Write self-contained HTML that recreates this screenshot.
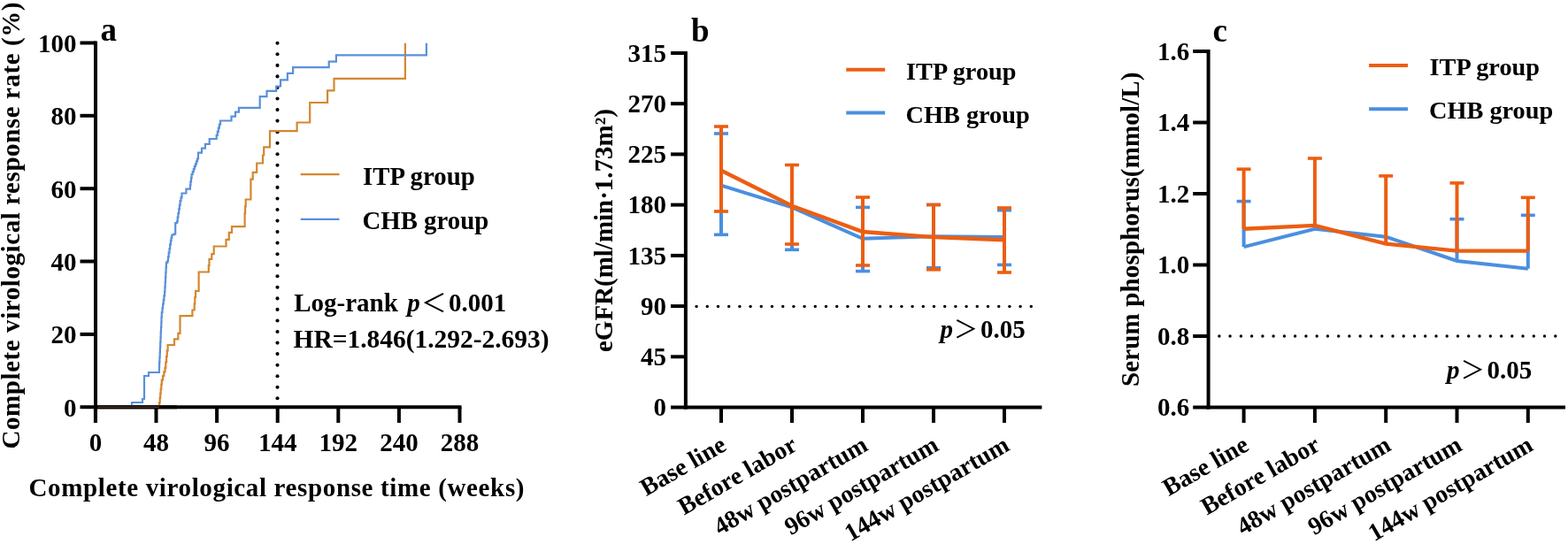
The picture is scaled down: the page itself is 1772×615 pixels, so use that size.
<!DOCTYPE html>
<html><head><meta charset="utf-8"><title>Figure</title>
<style>
html,body{margin:0;padding:0;background:#fff;}
svg{display:block;filter:blur(0.45px);}
text{font-family:'Liberation Serif', 'Times New Roman', serif;font-weight:bold;fill:#000;}
.cjk{font-family:'Noto Sans CJK SC','Liberation Serif',sans-serif;font-weight:normal;}
</style></head>
<body>
<svg width="1772" height="615" viewBox="0 0 1772 615">
<rect width="1772" height="615" fill="#fff"/>
<line x1="90.5" y1="460.2" x2="108.0" y2="460.2" stroke="#000" stroke-width="4" stroke-linecap="butt"/>
<text x="86.5" y="470.5" font-size="29" text-anchor="end" >0</text>
<line x1="90.5" y1="377.9" x2="108.0" y2="377.9" stroke="#000" stroke-width="4" stroke-linecap="butt"/>
<text x="86.5" y="388.2" font-size="29" text-anchor="end" >20</text>
<line x1="90.5" y1="295.5" x2="108.0" y2="295.5" stroke="#000" stroke-width="4" stroke-linecap="butt"/>
<text x="86.5" y="305.8" font-size="29" text-anchor="end" >40</text>
<line x1="90.5" y1="213.2" x2="108.0" y2="213.2" stroke="#000" stroke-width="4" stroke-linecap="butt"/>
<text x="86.5" y="223.5" font-size="29" text-anchor="end" >60</text>
<line x1="90.5" y1="130.8" x2="108.0" y2="130.8" stroke="#000" stroke-width="4" stroke-linecap="butt"/>
<text x="86.5" y="141.1" font-size="29" text-anchor="end" >80</text>
<line x1="90.5" y1="48.5" x2="108.0" y2="48.5" stroke="#000" stroke-width="4" stroke-linecap="butt"/>
<text x="86.5" y="58.8" font-size="29" text-anchor="end" >100</text>
<line x1="107.9" y1="460.2" x2="107.9" y2="478.0" stroke="#000" stroke-width="4" stroke-linecap="butt"/>
<text x="107.9" y="510.0" font-size="29" text-anchor="middle" >0</text>
<line x1="176.5" y1="460.2" x2="176.5" y2="478.0" stroke="#000" stroke-width="4" stroke-linecap="butt"/>
<text x="176.5" y="510.0" font-size="29" text-anchor="middle" >48</text>
<line x1="245.1" y1="460.2" x2="245.1" y2="478.0" stroke="#000" stroke-width="4" stroke-linecap="butt"/>
<text x="245.1" y="510.0" font-size="29" text-anchor="middle" >96</text>
<line x1="313.7" y1="460.2" x2="313.7" y2="478.0" stroke="#000" stroke-width="4" stroke-linecap="butt"/>
<text x="313.7" y="510.0" font-size="29" text-anchor="middle" >144</text>
<line x1="382.3" y1="460.2" x2="382.3" y2="478.0" stroke="#000" stroke-width="4" stroke-linecap="butt"/>
<text x="382.3" y="510.0" font-size="29" text-anchor="middle" >192</text>
<line x1="450.9" y1="460.2" x2="450.9" y2="478.0" stroke="#000" stroke-width="4" stroke-linecap="butt"/>
<text x="450.9" y="510.0" font-size="29" text-anchor="middle" >240</text>
<line x1="519.5" y1="460.2" x2="519.5" y2="478.0" stroke="#000" stroke-width="4" stroke-linecap="butt"/>
<text x="519.5" y="510.0" font-size="29" text-anchor="middle" >288</text>
<line x1="108.0" y1="46.5" x2="108.0" y2="462.2" stroke="#000" stroke-width="4" stroke-linecap="butt"/>
<line x1="106.0" y1="460.2" x2="521.5" y2="460.2" stroke="#000" stroke-width="4" stroke-linecap="butt"/>
<circle cx="313.5" cy="48.8" r="2.05"/>
<circle cx="313.5" cy="61.3" r="2.05"/>
<circle cx="313.5" cy="73.9" r="2.05"/>
<circle cx="313.5" cy="86.4" r="2.05"/>
<circle cx="313.5" cy="99.0" r="2.05"/>
<circle cx="313.5" cy="111.5" r="2.05"/>
<circle cx="313.5" cy="124.1" r="2.05"/>
<circle cx="313.5" cy="136.6" r="2.05"/>
<circle cx="313.5" cy="149.2" r="2.05"/>
<circle cx="313.5" cy="161.7" r="2.05"/>
<circle cx="313.5" cy="174.3" r="2.05"/>
<circle cx="313.5" cy="186.8" r="2.05"/>
<circle cx="313.5" cy="199.4" r="2.05"/>
<circle cx="313.5" cy="211.9" r="2.05"/>
<circle cx="313.5" cy="224.5" r="2.05"/>
<circle cx="313.5" cy="237.0" r="2.05"/>
<circle cx="313.5" cy="249.6" r="2.05"/>
<circle cx="313.5" cy="262.1" r="2.05"/>
<circle cx="313.5" cy="274.6" r="2.05"/>
<circle cx="313.5" cy="287.2" r="2.05"/>
<circle cx="313.5" cy="299.7" r="2.05"/>
<circle cx="313.5" cy="312.3" r="2.05"/>
<circle cx="313.5" cy="324.8" r="2.05"/>
<circle cx="313.5" cy="337.4" r="2.05"/>
<circle cx="313.5" cy="349.9" r="2.05"/>
<circle cx="313.5" cy="362.5" r="2.05"/>
<circle cx="313.5" cy="375.0" r="2.05"/>
<circle cx="313.5" cy="387.6" r="2.05"/>
<circle cx="313.5" cy="400.1" r="2.05"/>
<circle cx="313.5" cy="412.7" r="2.05"/>
<circle cx="313.5" cy="425.2" r="2.05"/>
<circle cx="313.5" cy="437.8" r="2.05"/>
<circle cx="313.5" cy="450.3" r="2.05"/>
<path d="M108.0,460.2H179.6V460.2H180.1V455.1H180.7V450.0H181.2V444.9H181.7V439.8H182.3V434.7H182.8V429.6H184.0V425.0H185.3V420.4H186.5V415.8H187.3V409.4H188.1V402.9H188.8V396.4H189.6V390.0H197.0V390.0H197.0V383.4H201.3V383.4H201.3V376.8H203.5V376.8H203.5V357.1H217.4V357.1H217.4V350.5H219.0V350.5H219.7V343.3H220.3V336.2H221.0V329.0H224.6V329.0H224.6V307.5H235.2V307.5H235.8V300.1H236.5V292.8H238.5V292.8H239.3V287.2H240.9V287.2H241.7V278.5H255.5V278.5H255.5V270.9H258.8V270.9H258.8V262.8H260.4V262.8H262.0V256.2H275.5V256.2H276.6V241.4H277.1V233.4H277.7V225.5H282.3V225.5H283.4V202.7H285.7V194.8H289.0V194.8H290.2V184.5H295.9V184.5H297.0V175.5H298.2V166.4H303.9V166.4H305.0V148.2H335.6V148.2H335.6V138.5H349.2V138.5H350.2V127.8H350.2V116.0H370.1V116.0H370.1V102.4H377.5V102.4H377.5V88.8H457.9V88.8H457.9V48.8" fill="none" stroke="#D4872F" stroke-width="2.2"/>
<path d="M108.0,460.2H149.0V455.0H161.0V451.0H163.0V425.0H168.0V421.0H179.6V421.0H179.9V415.3H180.1V409.7H180.4V404.0H180.7V398.3H180.9V392.7H181.2V387.0H181.5V381.3H181.7V375.7H182.0V370.0H182.3V364.3H182.5V358.7H182.8V353.0H183.5V348.4H184.1V343.7H184.8V339.1H185.4V334.4H186.1V329.8H186.4V324.3H186.7V318.8H187.0V313.3H187.3V307.8H187.6V302.3H187.9V296.8H189.3V295.0H190.0V290.4H190.7V285.7H191.5V281.1H192.2V276.4H192.9V271.8H193.6V268.6H194.3V265.5H196.4V264.6H198.2V252.1H200.0V250.4H200.7V245.7H201.4V241.1H202.2V236.4H202.9V231.8H203.6V227.1H204.5V223.4H205.5V218.5H209.4V218.5H210.4V213.6H214.3V213.6H214.9V209.4H215.4V205.3H216.0V201.2H216.6V197.0H217.7V194.1H218.8V191.1H219.8V188.2H220.9V185.3H222.0V182.3H223.1V179.4H224.0V172.6H227.0V172.6H228.0V167.7H230.9V167.7H231.9V162.8H235.4V162.8H236.7V157.0H243.6V157.0H244.7V152.9H245.8V148.8H246.8V144.7H247.9V140.6H249.0V136.5H260.2V136.5H261.5V131.6H265.0V131.6H266.0V126.7H269.0V126.7H269.9V121.8H293.7V121.8H293.7V109.2H301.5V109.2H301.5V102.8H312.2V102.8H312.2V97.5H317.0V97.5H317.0V90.3H324.9V90.3H324.9V82.9H331.1V82.9H331.1V76.1H371.7V76.1H371.7V69.6H379.9V69.6H379.9V62.4H481.9V62.4H481.9V48.8" fill="none" stroke="#5A90DA" stroke-width="2.2"/>
<line x1="108.0" y1="440.0" x2="108.0" y2="478.0" stroke="#000" stroke-width="4" stroke-linecap="butt"/>
<line x1="106.0" y1="460.2" x2="200.0" y2="460.2" stroke="#000" stroke-width="4" stroke-linecap="butt"/>
<line x1="110.5" y1="460.2" x2="180" y2="460.2" stroke="#4a3024" stroke-width="1.6"/>
<line x1="339.7" y1="197.2" x2="383.5" y2="197.2" stroke="#D4872F" stroke-width="2.2" stroke-linecap="butt"/>
<line x1="339.7" y1="247.8" x2="383.5" y2="247.8" stroke="#5A90DA" stroke-width="2.2" stroke-linecap="butt"/>
<text x="410.0" y="209.0" font-size="28.8" text-anchor="start" >ITP group</text>
<text x="409.5" y="259.4" font-size="28.8" text-anchor="start" >CHB group</text>
<text x="332.2" y="352.4" font-size="29" text-anchor="start" >Log-rank</text>
<text x="460.2" y="352.4" font-size="29" text-anchor="start" font-style="italic">p</text>
<text x="476" y="353" font-size="28.8" class="cjk">＜</text>
<text x="507.0" y="352.4" font-size="29" text-anchor="start" >0.001</text>
<text x="331.5" y="392.6" font-size="29.5" text-anchor="start" textLength="289" lengthAdjust="spacingAndGlyphs" >HR=1.846(1.292-2.693)</text>
<text x="113.5" y="46.0" font-size="37" text-anchor="start" >a</text>
<text x="32.5" y="561.0" font-size="29" text-anchor="start" textLength="560" lengthAdjust="spacing" >Complete virological response time (weeks)</text>
<text transform="translate(22,507.5) rotate(-90)" font-size="29" textLength="505" lengthAdjust="spacing">Complete virological response rate (%)</text>
<line x1="758.0" y1="460.5" x2="774.9" y2="460.5" stroke="#000" stroke-width="4" stroke-linecap="butt"/>
<text x="753.0" y="470.3" font-size="29" text-anchor="end" >0</text>
<line x1="758.0" y1="403.3" x2="774.9" y2="403.3" stroke="#000" stroke-width="4" stroke-linecap="butt"/>
<text x="753.0" y="413.1" font-size="29" text-anchor="end" >45</text>
<line x1="758.0" y1="346.1" x2="774.9" y2="346.1" stroke="#000" stroke-width="4" stroke-linecap="butt"/>
<text x="753.0" y="355.9" font-size="29" text-anchor="end" >90</text>
<line x1="758.0" y1="288.9" x2="774.9" y2="288.9" stroke="#000" stroke-width="4" stroke-linecap="butt"/>
<text x="753.0" y="298.7" font-size="29" text-anchor="end" >135</text>
<line x1="758.0" y1="231.6" x2="774.9" y2="231.6" stroke="#000" stroke-width="4" stroke-linecap="butt"/>
<text x="753.0" y="241.4" font-size="29" text-anchor="end" >180</text>
<line x1="758.0" y1="174.4" x2="774.9" y2="174.4" stroke="#000" stroke-width="4" stroke-linecap="butt"/>
<text x="753.0" y="184.2" font-size="29" text-anchor="end" >225</text>
<line x1="758.0" y1="117.2" x2="774.9" y2="117.2" stroke="#000" stroke-width="4" stroke-linecap="butt"/>
<text x="753.0" y="127.0" font-size="29" text-anchor="end" >270</text>
<line x1="758.0" y1="60.0" x2="774.9" y2="60.0" stroke="#000" stroke-width="4" stroke-linecap="butt"/>
<text x="753.0" y="69.8" font-size="29" text-anchor="end" >315</text>
<line x1="815.0" y1="460.5" x2="815.0" y2="478.0" stroke="#000" stroke-width="4" stroke-linecap="butt"/>
<line x1="895.0" y1="460.5" x2="895.0" y2="478.0" stroke="#000" stroke-width="4" stroke-linecap="butt"/>
<line x1="975.0" y1="460.5" x2="975.0" y2="478.0" stroke="#000" stroke-width="4" stroke-linecap="butt"/>
<line x1="1055.0" y1="460.5" x2="1055.0" y2="478.0" stroke="#000" stroke-width="4" stroke-linecap="butt"/>
<line x1="1135.0" y1="460.5" x2="1135.0" y2="478.0" stroke="#000" stroke-width="4" stroke-linecap="butt"/>
<line x1="774.9" y1="58.0" x2="774.9" y2="462.5" stroke="#000" stroke-width="4" stroke-linecap="butt"/>
<line x1="772.9" y1="460.5" x2="1177.4" y2="460.5" stroke="#000" stroke-width="4" stroke-linecap="butt"/>
<circle cx="787.1" cy="346.4" r="1.7"/>
<circle cx="799.3" cy="346.4" r="1.7"/>
<circle cx="811.5" cy="346.4" r="1.7"/>
<circle cx="823.7" cy="346.4" r="1.7"/>
<circle cx="835.9" cy="346.4" r="1.7"/>
<circle cx="848.1" cy="346.4" r="1.7"/>
<circle cx="860.3" cy="346.4" r="1.7"/>
<circle cx="872.5" cy="346.4" r="1.7"/>
<circle cx="884.7" cy="346.4" r="1.7"/>
<circle cx="896.9" cy="346.4" r="1.7"/>
<circle cx="909.1" cy="346.4" r="1.7"/>
<circle cx="921.3" cy="346.4" r="1.7"/>
<circle cx="933.5" cy="346.4" r="1.7"/>
<circle cx="945.7" cy="346.4" r="1.7"/>
<circle cx="957.9" cy="346.4" r="1.7"/>
<circle cx="970.1" cy="346.4" r="1.7"/>
<circle cx="982.3" cy="346.4" r="1.7"/>
<circle cx="994.5" cy="346.4" r="1.7"/>
<circle cx="1006.7" cy="346.4" r="1.7"/>
<circle cx="1018.9" cy="346.4" r="1.7"/>
<circle cx="1031.1" cy="346.4" r="1.7"/>
<circle cx="1043.3" cy="346.4" r="1.7"/>
<circle cx="1055.5" cy="346.4" r="1.7"/>
<circle cx="1067.7" cy="346.4" r="1.7"/>
<circle cx="1079.9" cy="346.4" r="1.7"/>
<circle cx="1092.1" cy="346.4" r="1.7"/>
<circle cx="1104.3" cy="346.4" r="1.7"/>
<circle cx="1116.5" cy="346.4" r="1.7"/>
<circle cx="1128.7" cy="346.4" r="1.7"/>
<circle cx="1140.9" cy="346.4" r="1.7"/>
<circle cx="1153.1" cy="346.4" r="1.7"/>
<circle cx="1165.3" cy="346.4" r="1.7"/>
<text x="1062.5" y="381.8" font-size="29" text-anchor="start" font-style="italic">p</text>
<text x="1077.8" y="382.3" font-size="27.6" class="cjk">＞</text>
<text x="1108.0" y="381.8" font-size="29" text-anchor="start" >0.05</text>
<line x1="815.0" y1="151.0" x2="815.0" y2="265.3" stroke="#4A8FE0" stroke-width="4" stroke-linecap="butt"/>
<line x1="807.0" y1="151.0" x2="823.0" y2="151.0" stroke="#4A8FE0" stroke-width="3.6" stroke-linecap="butt"/>
<line x1="807.0" y1="265.3" x2="823.0" y2="265.3" stroke="#4A8FE0" stroke-width="3.6" stroke-linecap="butt"/>
<line x1="895.0" y1="186.5" x2="895.0" y2="282.3" stroke="#4A8FE0" stroke-width="4" stroke-linecap="butt"/>
<line x1="887.0" y1="282.3" x2="903.0" y2="282.3" stroke="#4A8FE0" stroke-width="3.6" stroke-linecap="butt"/>
<line x1="975.0" y1="234.4" x2="975.0" y2="306.6" stroke="#4A8FE0" stroke-width="4" stroke-linecap="butt"/>
<line x1="967.0" y1="234.4" x2="983.0" y2="234.4" stroke="#4A8FE0" stroke-width="3.6" stroke-linecap="butt"/>
<line x1="967.0" y1="306.6" x2="983.0" y2="306.6" stroke="#4A8FE0" stroke-width="3.6" stroke-linecap="butt"/>
<line x1="1055.0" y1="231.5" x2="1055.0" y2="302.7" stroke="#4A8FE0" stroke-width="4" stroke-linecap="butt"/>
<line x1="1047.0" y1="231.5" x2="1063.0" y2="231.5" stroke="#4A8FE0" stroke-width="3.6" stroke-linecap="butt"/>
<line x1="1047.0" y1="302.7" x2="1063.0" y2="302.7" stroke="#4A8FE0" stroke-width="3.6" stroke-linecap="butt"/>
<line x1="1135.0" y1="237.7" x2="1135.0" y2="299.4" stroke="#4A8FE0" stroke-width="4" stroke-linecap="butt"/>
<line x1="1127.0" y1="237.7" x2="1143.0" y2="237.7" stroke="#4A8FE0" stroke-width="3.6" stroke-linecap="butt"/>
<line x1="1127.0" y1="299.4" x2="1143.0" y2="299.4" stroke="#4A8FE0" stroke-width="3.6" stroke-linecap="butt"/>
<polyline points="815,209.7 895,234.4 975,269.8 1055,267.2 1135,268.1" fill="none" stroke="#4A8FE0" stroke-width="4"/>
<line x1="815.0" y1="143.0" x2="815.0" y2="239.0" stroke="#EC5E12" stroke-width="4" stroke-linecap="butt"/>
<line x1="807.0" y1="143.0" x2="823.0" y2="143.0" stroke="#EC5E12" stroke-width="3.6" stroke-linecap="butt"/>
<line x1="807.0" y1="239.0" x2="823.0" y2="239.0" stroke="#EC5E12" stroke-width="3.6" stroke-linecap="butt"/>
<line x1="895.0" y1="186.5" x2="895.0" y2="276.0" stroke="#EC5E12" stroke-width="4" stroke-linecap="butt"/>
<line x1="887.0" y1="186.5" x2="903.0" y2="186.5" stroke="#EC5E12" stroke-width="3.6" stroke-linecap="butt"/>
<line x1="887.0" y1="276.0" x2="903.0" y2="276.0" stroke="#EC5E12" stroke-width="3.6" stroke-linecap="butt"/>
<line x1="975.0" y1="223.0" x2="975.0" y2="300.0" stroke="#EC5E12" stroke-width="4" stroke-linecap="butt"/>
<line x1="967.0" y1="223.0" x2="983.0" y2="223.0" stroke="#EC5E12" stroke-width="3.6" stroke-linecap="butt"/>
<line x1="967.0" y1="300.0" x2="983.0" y2="300.0" stroke="#EC5E12" stroke-width="3.6" stroke-linecap="butt"/>
<line x1="1055.0" y1="231.5" x2="1055.0" y2="304.8" stroke="#EC5E12" stroke-width="4" stroke-linecap="butt"/>
<line x1="1047.0" y1="231.5" x2="1063.0" y2="231.5" stroke="#EC5E12" stroke-width="3.6" stroke-linecap="butt"/>
<line x1="1047.0" y1="304.8" x2="1063.0" y2="304.8" stroke="#EC5E12" stroke-width="3.6" stroke-linecap="butt"/>
<line x1="1135.0" y1="235.0" x2="1135.0" y2="308.0" stroke="#EC5E12" stroke-width="4" stroke-linecap="butt"/>
<line x1="1127.0" y1="235.0" x2="1143.0" y2="235.0" stroke="#EC5E12" stroke-width="3.6" stroke-linecap="butt"/>
<line x1="1127.0" y1="308.0" x2="1143.0" y2="308.0" stroke="#EC5E12" stroke-width="3.6" stroke-linecap="butt"/>
<polyline points="815,192.7 895,232.8 975,262.0 1055,268.1 1135,271.2" fill="none" stroke="#EC5E12" stroke-width="4.4"/>
<line x1="956.3" y1="78.7" x2="1000.2" y2="78.7" stroke="#EC5E12" stroke-width="4" stroke-linecap="butt"/>
<line x1="956.3" y1="127.5" x2="1000.2" y2="127.5" stroke="#4A8FE0" stroke-width="4" stroke-linecap="butt"/>
<text x="1024.0" y="90.0" font-size="28.3" text-anchor="start" >ITP group</text>
<text x="1023.5" y="138.9" font-size="28.3" text-anchor="start" >CHB group</text>
<text x="781.0" y="47.2" font-size="37" text-anchor="start" >b</text>
<text transform="translate(691.5,398) rotate(-90)" font-size="29" textLength="275" lengthAdjust="spacing">eGFR(ml/min·1.73m²)</text>
<text transform="translate(822.5,508) rotate(-30)" font-size="28" text-anchor="end">Base line</text>
<text transform="translate(902.5,508) rotate(-30)" font-size="28" text-anchor="end">Before labor</text>
<text transform="translate(982.5,508) rotate(-30)" font-size="28" text-anchor="end">48w postpartum</text>
<text transform="translate(1062.5,508) rotate(-30)" font-size="28" text-anchor="end">96w postpartum</text>
<text transform="translate(1142.5,508) rotate(-30)" font-size="28" text-anchor="end">144w postpartum</text>
<line x1="1348.2" y1="460.5" x2="1365.6" y2="460.5" stroke="#000" stroke-width="4" stroke-linecap="butt"/>
<text x="1344.2" y="470.3" font-size="29" text-anchor="end" >0.6</text>
<line x1="1348.2" y1="380.0" x2="1365.6" y2="380.0" stroke="#000" stroke-width="4" stroke-linecap="butt"/>
<text x="1344.2" y="389.8" font-size="29" text-anchor="end" >0.8</text>
<line x1="1348.2" y1="299.5" x2="1365.6" y2="299.5" stroke="#000" stroke-width="4" stroke-linecap="butt"/>
<text x="1344.2" y="309.3" font-size="29" text-anchor="end" >1.0</text>
<line x1="1348.2" y1="219.0" x2="1365.6" y2="219.0" stroke="#000" stroke-width="4" stroke-linecap="butt"/>
<text x="1344.2" y="228.8" font-size="29" text-anchor="end" >1.2</text>
<line x1="1348.2" y1="138.5" x2="1365.6" y2="138.5" stroke="#000" stroke-width="4" stroke-linecap="butt"/>
<text x="1344.2" y="148.3" font-size="29" text-anchor="end" >1.4</text>
<line x1="1348.2" y1="58.0" x2="1365.6" y2="58.0" stroke="#000" stroke-width="4" stroke-linecap="butt"/>
<text x="1344.2" y="67.8" font-size="29" text-anchor="end" >1.6</text>
<line x1="1405.6" y1="460.5" x2="1405.6" y2="478.0" stroke="#000" stroke-width="4" stroke-linecap="butt"/>
<line x1="1485.9" y1="460.5" x2="1485.9" y2="478.0" stroke="#000" stroke-width="4" stroke-linecap="butt"/>
<line x1="1566.2" y1="460.5" x2="1566.2" y2="478.0" stroke="#000" stroke-width="4" stroke-linecap="butt"/>
<line x1="1646.5" y1="460.5" x2="1646.5" y2="478.0" stroke="#000" stroke-width="4" stroke-linecap="butt"/>
<line x1="1726.8" y1="460.5" x2="1726.8" y2="478.0" stroke="#000" stroke-width="4" stroke-linecap="butt"/>
<line x1="1365.6" y1="56.0" x2="1365.6" y2="462.5" stroke="#000" stroke-width="4" stroke-linecap="butt"/>
<line x1="1363.6" y1="460.5" x2="1769.0" y2="460.5" stroke="#000" stroke-width="4" stroke-linecap="butt"/>
<circle cx="1377.9" cy="380" r="1.7"/>
<circle cx="1390.1" cy="380" r="1.7"/>
<circle cx="1402.4" cy="380" r="1.7"/>
<circle cx="1414.6" cy="380" r="1.7"/>
<circle cx="1426.9" cy="380" r="1.7"/>
<circle cx="1439.1" cy="380" r="1.7"/>
<circle cx="1451.4" cy="380" r="1.7"/>
<circle cx="1463.6" cy="380" r="1.7"/>
<circle cx="1475.9" cy="380" r="1.7"/>
<circle cx="1488.2" cy="380" r="1.7"/>
<circle cx="1500.4" cy="380" r="1.7"/>
<circle cx="1512.7" cy="380" r="1.7"/>
<circle cx="1524.9" cy="380" r="1.7"/>
<circle cx="1537.2" cy="380" r="1.7"/>
<circle cx="1549.4" cy="380" r="1.7"/>
<circle cx="1561.7" cy="380" r="1.7"/>
<circle cx="1574.0" cy="380" r="1.7"/>
<circle cx="1586.2" cy="380" r="1.7"/>
<circle cx="1598.5" cy="380" r="1.7"/>
<circle cx="1610.7" cy="380" r="1.7"/>
<circle cx="1623.0" cy="380" r="1.7"/>
<circle cx="1635.2" cy="380" r="1.7"/>
<circle cx="1647.5" cy="380" r="1.7"/>
<circle cx="1659.7" cy="380" r="1.7"/>
<circle cx="1672.0" cy="380" r="1.7"/>
<circle cx="1684.3" cy="380" r="1.7"/>
<circle cx="1696.5" cy="380" r="1.7"/>
<circle cx="1708.8" cy="380" r="1.7"/>
<circle cx="1721.0" cy="380" r="1.7"/>
<circle cx="1733.3" cy="380" r="1.7"/>
<circle cx="1745.5" cy="380" r="1.7"/>
<circle cx="1757.8" cy="380" r="1.7"/>
<text x="1635.0" y="427.7" font-size="29" text-anchor="start" font-style="italic">p</text>
<text x="1650.6" y="428.4" font-size="27.6" class="cjk">＞</text>
<text x="1680.5" y="427.7" font-size="29" text-anchor="start" >0.05</text>
<line x1="1405.6" y1="227.6" x2="1405.6" y2="279.1" stroke="#4A8FE0" stroke-width="4" stroke-linecap="butt"/>
<line x1="1397.6" y1="227.6" x2="1413.6" y2="227.6" stroke="#4A8FE0" stroke-width="3.6" stroke-linecap="butt"/>
<line x1="1646.5" y1="247.7" x2="1646.5" y2="295.0" stroke="#4A8FE0" stroke-width="4" stroke-linecap="butt"/>
<line x1="1638.5" y1="247.7" x2="1654.5" y2="247.7" stroke="#4A8FE0" stroke-width="3.6" stroke-linecap="butt"/>
<line x1="1726.8" y1="243.3" x2="1726.8" y2="303.7" stroke="#4A8FE0" stroke-width="4" stroke-linecap="butt"/>
<line x1="1718.8" y1="243.3" x2="1734.8" y2="243.3" stroke="#4A8FE0" stroke-width="3.6" stroke-linecap="butt"/>
<polyline points="1405.6,279.1 1485.9,258.8 1566.2,267.7 1646.5,295 1726.8,303.7" fill="none" stroke="#4A8FE0" stroke-width="4"/>
<line x1="1405.6" y1="191.2" x2="1405.6" y2="258.8" stroke="#EC5E12" stroke-width="4" stroke-linecap="butt"/>
<line x1="1397.6" y1="191.2" x2="1413.6" y2="191.2" stroke="#EC5E12" stroke-width="3.6" stroke-linecap="butt"/>
<line x1="1485.9" y1="179.0" x2="1485.9" y2="254.9" stroke="#EC5E12" stroke-width="4" stroke-linecap="butt"/>
<line x1="1477.9" y1="179.0" x2="1493.9" y2="179.0" stroke="#EC5E12" stroke-width="3.6" stroke-linecap="butt"/>
<line x1="1566.2" y1="198.9" x2="1566.2" y2="275.7" stroke="#EC5E12" stroke-width="4" stroke-linecap="butt"/>
<line x1="1558.2" y1="198.9" x2="1574.2" y2="198.9" stroke="#EC5E12" stroke-width="3.6" stroke-linecap="butt"/>
<line x1="1646.5" y1="206.9" x2="1646.5" y2="283.6" stroke="#EC5E12" stroke-width="4" stroke-linecap="butt"/>
<line x1="1638.5" y1="206.9" x2="1654.5" y2="206.9" stroke="#EC5E12" stroke-width="3.6" stroke-linecap="butt"/>
<line x1="1726.8" y1="223.3" x2="1726.8" y2="283.6" stroke="#EC5E12" stroke-width="4" stroke-linecap="butt"/>
<line x1="1718.8" y1="223.3" x2="1734.8" y2="223.3" stroke="#EC5E12" stroke-width="3.6" stroke-linecap="butt"/>
<polyline points="1405.6,258.8 1485.9,254.9 1566.2,275.7 1646.5,283.6 1726.8,283.6" fill="none" stroke="#EC5E12" stroke-width="4.4"/>
<line x1="1547.1" y1="74.1" x2="1591.0" y2="74.1" stroke="#EC5E12" stroke-width="4" stroke-linecap="butt"/>
<line x1="1547.1" y1="123.2" x2="1591.0" y2="123.2" stroke="#4A8FE0" stroke-width="4" stroke-linecap="butt"/>
<text x="1615.5" y="85.0" font-size="28.3" text-anchor="start" >ITP group</text>
<text x="1615.0" y="134.2" font-size="28.3" text-anchor="start" >CHB group</text>
<text x="1370.5" y="46.8" font-size="37" text-anchor="start" >c</text>
<text transform="translate(1287,437) rotate(-90)" font-size="29" textLength="355.5" lengthAdjust="spacing">Serum phosphorus(mmol/L)</text>
<text transform="translate(1413.1,508) rotate(-30)" font-size="28" text-anchor="end">Base line</text>
<text transform="translate(1493.3999999999999,508) rotate(-30)" font-size="28" text-anchor="end">Before labor</text>
<text transform="translate(1573.6999999999998,508) rotate(-30)" font-size="28" text-anchor="end">48w postpartum</text>
<text transform="translate(1654.0,508) rotate(-30)" font-size="28" text-anchor="end">96w postpartum</text>
<text transform="translate(1734.3,508) rotate(-30)" font-size="28" text-anchor="end">144w postpartum</text>
</svg>
</body></html>
